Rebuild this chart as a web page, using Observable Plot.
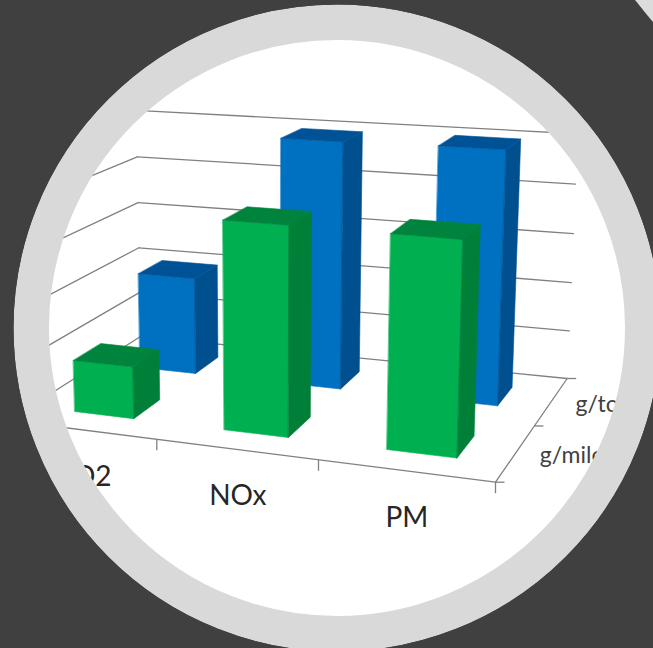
<!DOCTYPE html>
<html>
<head>
<meta charset="utf-8">
<script src="https://cdn.jsdelivr.net/npm/d3@7"></script>
<script src="https://cdn.jsdelivr.net/npm/@observablehq/plot@0.6"></script>
<style>
html,body{margin:0;padding:0;background:#404040;overflow:hidden}
svg{display:block}
</style>
</head>
<body>
<div id="chart"></div>
<script>
// Chart data
const categories = ["CO2", "NOx", "PM"];
const series = ["g/mile", "g/ton"];
const gMile = [1.02, 3.98, 3.97];
const gTon = [2.0, 4.97, 5.0];
const levels = [0, 1, 2, 3, 4, 5];

// Styles
const frontColors = ["#00b050", "#0070c0"];
const sideColors = ["#007f39", "#004f8f"];
const topColors = ["#00843d", "#005296"];
const gridColor = "#808080";

// Camera: floor corners on the stage and the vanishing point of the uprights
const floor = {fl: [8, 420], fr: [495, 481.7], br: [566.7, 378], bl: [140, 336]};
const vanish = [267, 7408];
const lift = -0.0072;
const rightTaper = 0.03;

const dx1 = floor.fr[0] - floor.br[0], dx2 = floor.bl[0] - floor.br[0];
const dy1 = floor.fr[1] - floor.br[1], dy2 = floor.bl[1] - floor.br[1];
const sx = floor.fl[0] - floor.fr[0] + floor.br[0] - floor.bl[0];
const sy = floor.fl[1] - floor.fr[1] + floor.br[1] - floor.bl[1];
const det = dx1 * dy2 - dx2 * dy1;
const g = (sx * dy2 - dx2 * sy) / det;
const h = (dx1 * sy - sx * dy1) / det;
const a = floor.fr[0] - floor.fl[0] + g * floor.fr[0];
const b = floor.bl[0] - floor.fl[0] + h * floor.bl[0];
const d = floor.fr[1] - floor.fl[1] + g * floor.fr[1];
const e = floor.bl[1] - floor.fl[1] + h * floor.bl[1];

// u: category axis position, v: series axis position, z: value
function project(u, v, z) {
  const s = u / categories.length, t = v / series.length;
  const w = g * s + h * t + 1;
  const k = z * lift * (1 - rightTaper * s);
  const X = a * s + b * t + floor.fl[0] + k * vanish[0];
  const Y = d * s + e * t + floor.fl[1] + k * vanish[1];
  return {x: X / (w + k), y: Y / (w + k)};
}

const gapU = 0.31, barU = 0.405, gapV = 0.3;
const faces = [];
[gTon, gMile].forEach((vals) => {
  const j = vals === gMile ? 0 : 1;
  vals.forEach((val, i) => {
    const u0 = i + gapU, u1 = u0 + barU, v0 = j + gapV, v1 = j + 1 - gapV;
    const add = (name, color, pts) => pts.forEach(([u, v, z]) =>
      faces.push({...project(u, v, z), face: `${j}-${i}-${name}`, color}));
    add("front", frontColors[j], [[u0, v0, 0], [u1, v0, 0], [u1, v0, val], [u0, v0, val]]);
    add("side", sideColors[j], [[u1, v0, 0], [u1, v1, 0], [u1, v1, val], [u1, v0, val]]);
    add("top", topColors[j], [[u0, v0, val], [u1, v0, val], [u1, v1, val], [u0, v1, val]]);
  });
});

const nC = categories.length, nS = series.length;
const gridLines = levels.flatMap((z) => [
  {...project(0, nS, z), z}, {...project(nC, nS, z), z}
]);
const sideLines = levels.flatMap((z) => [
  {...project(0, 0, z), z}, {...project(0, nS, z), z}
]);
const frontAxis = [project(0, 0, 0), project(nC, 0, 0)];
const rightAxis = [project(nC, 0, 0), project(nC, nS, 0)];
const xTicks = d3.range(nC + 1).map((u) => project(u, 0, 0));
const yTicks = d3.range(nS + 1).map((v) => project(nC, v, 0));
const catLabels = categories.map((name, i) => ({name, ...project(i + 0.5, 0, 0)}));
const serLabels = series.map((name, j) => ({name, ...project(nC, j + 0.5, 0)}));

const cx = 336.5, cy = 327.5;
const hub = [{x: cx, y: cy}];
const corner = [{x: 1418, y: -622}];

const chart = Plot.plot({
  width: 653, height: 648,
  margin: 0,
  style: {background: "transparent"},
  x: {domain: [0, 653], range: [0, 653], axis: null},
  y: {domain: [0, 648], range: [0, 648], axis: null},
  marks: [
    Plot.dot(hub, {x: "x", y: "y", r: 300, fill: "#ffffff"}),
    Plot.line(gridLines, {x: "x", y: "y", z: "z", stroke: gridColor, strokeWidth: 1.3}),
    Plot.line(sideLines, {x: "x", y: "y", z: "z", stroke: gridColor, strokeWidth: 1.3}),
    Plot.line(frontAxis, {x: "x", y: "y", stroke: gridColor, strokeWidth: 1.3}),
    Plot.line(rightAxis, {x: "x", y: "y", stroke: gridColor, strokeWidth: 1.3}),
    Plot.link(xTicks, {x1: "x", y1: "y", x2: "x", y2: (p) => p.y + 11, stroke: gridColor, strokeWidth: 1.3}),
    Plot.link(yTicks, {x1: "x", y1: "y", x2: (p) => p.x + 9, y2: "y", stroke: gridColor, strokeWidth: 1.3}),
    Plot.line(faces, {x: "x", y: "y", z: "face", fill: "color", stroke: "color", strokeWidth: 0.6, curve: "linear-closed"}),
    Plot.text(catLabels, {x: "x", y: "y", text: "name", dx: 2, dy: 47, fontSize: 28, fontFamily: "Lato", fill: "#262626", textAnchor: "middle"}),
    Plot.text(serLabels, {x: "x", y: "y", text: "name", dx: 24, dy: 3, fontSize: 23, fontFamily: "Lato", fill: "#404040", textAnchor: "start", letterSpacing: 1.5}),
    Plot.dot(hub, {x: "x", y: "y", r: 305.75, fill: "none", stroke: "#d9d9d9", strokeWidth: 35.5}),
    Plot.dot(hub, {x: "x", y: "y", r: 523.5, fill: "none", stroke: "#404040", strokeWidth: 400}),
    Plot.dot(corner, {x: "x", y: "y", r: 1000, fill: "#dcdcdc"})
  ]
});
document.getElementById("chart").appendChild(chart);
</script>
</body>
</html>
